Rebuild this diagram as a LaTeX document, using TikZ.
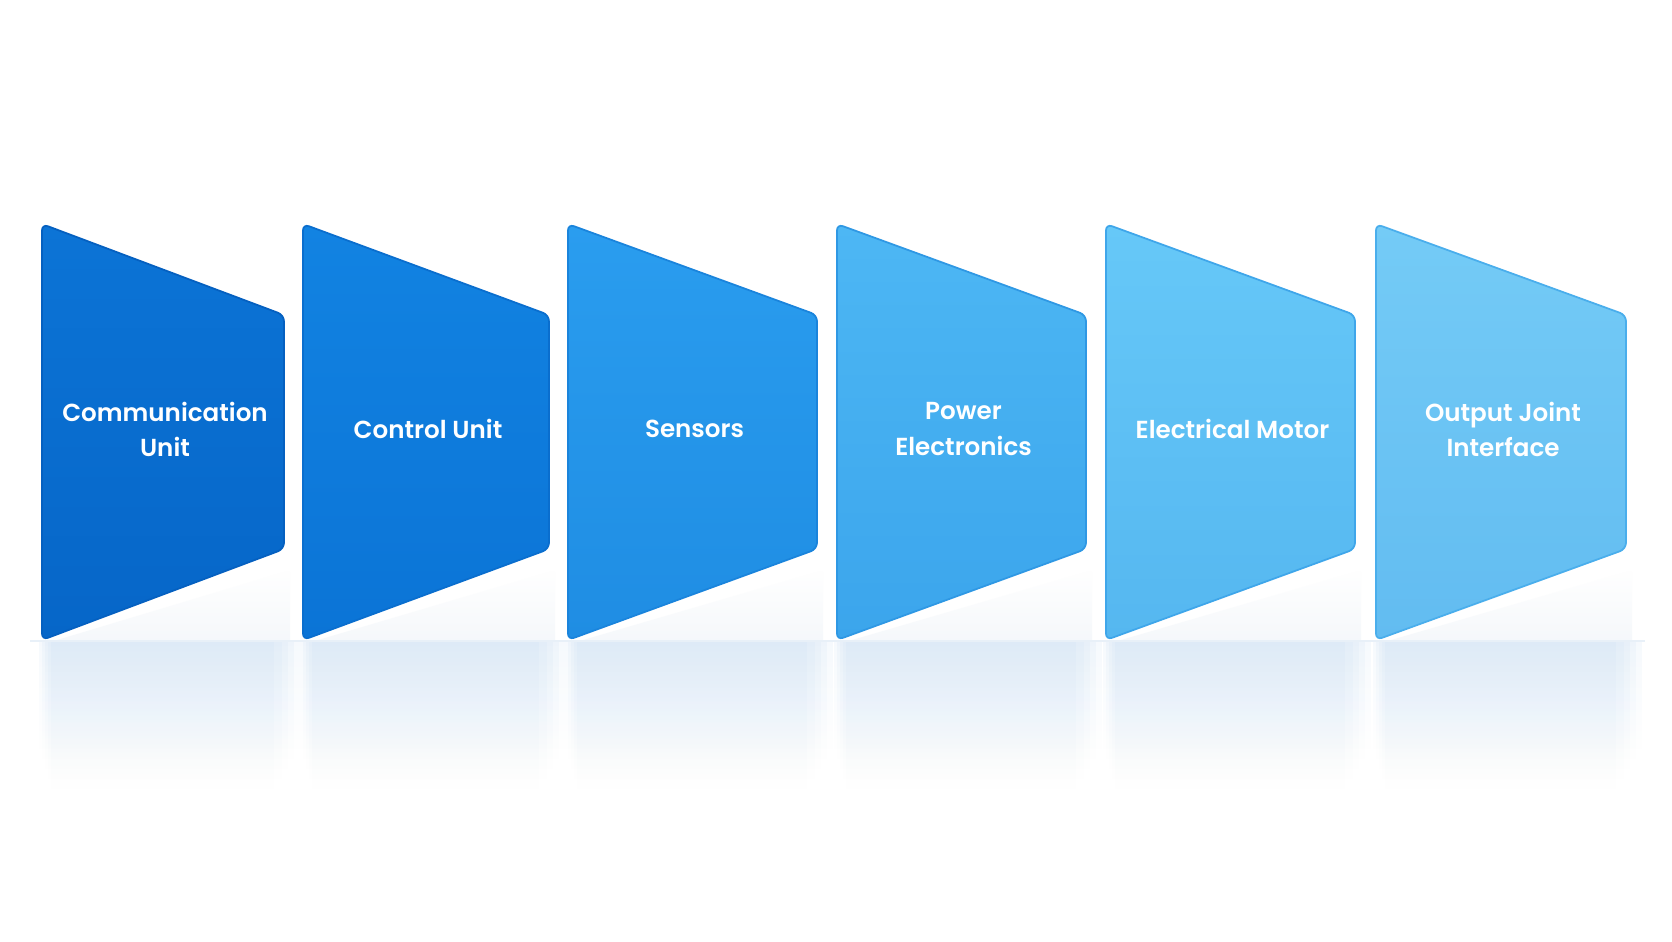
\documentclass[tikz,border=0pt]{standalone}
\usepackage{fontspec}
\setmainfont{Poppins}[BoldFont={Poppins SemiBold}]
\usetikzlibrary{fadings}
\definecolor{pa1}{HTML}{0C74D6}\definecolor{pb1}{HTML}{0666C8}\definecolor{pe1}{HTML}{0560C0}
\definecolor{pa2}{HTML}{1283E2}\definecolor{pb2}{HTML}{0B74D6}\definecolor{pe2}{HTML}{0A6ECE}
\definecolor{pa3}{HTML}{2A9DEF}\definecolor{pb3}{HTML}{1F8DE3}\definecolor{pe3}{HTML}{1A84DC}
\definecolor{pa4}{HTML}{4DB7F4}\definecolor{pb4}{HTML}{3BA5EC}\definecolor{pe4}{HTML}{2F98E4}
\definecolor{pa5}{HTML}{66C8F8}\definecolor{pb5}{HTML}{55B7F0}\definecolor{pe5}{HTML}{3FA6EA}
\definecolor{pa6}{HTML}{74CBF6}\definecolor{pb6}{HTML}{62BCF1}\definecolor{pe6}{HTML}{4AAEEC}
\definecolor{refl}{HTML}{C9DFF3}
\definecolor{shadowc}{HTML}{EEF3F8}
\definecolor{floorc}{HTML}{E8F0F8}
\tikzfading[name=fadedown, top color=transparent!84, bottom color=transparent!100]
\tikzfading[name=fadeup, top color=transparent!100, bottom color=transparent!45]
\tikzset{
  lbl/.style={text=white, font=\bfseries\fontsize{7.0}{9.96}\selectfont, align=center, inner sep=0pt},
  panelshape/.style={line width=0.5pt, rounded corners=1.8pt},
  refllayer/.style={fill=refl, path fading=fadedown}
}
\newcommand{\mypanel}[7]{%
  \fill[shadowc, path fading=fadeup] ({#2+15},640) -- ({#3+6},640) -- ({#3+6},570) -- cycle;
  \fill[refllayer] ({#2-3},642) rectangle ({#3+16},750);
  \fill[refllayer] ({#2},642) rectangle ({#3+10},760);
  \fill[refllayer] ({#2+3},642) rectangle ({#3+4},770);
  \fill[refllayer] ({#2+6},642) rectangle ({#3-2},780);
  \fill[refllayer] ({#2+9},642) rectangle ({#3-10},790);
  \shade[panelshape, top color=#4, bottom color=#5, draw=#6] (#2,224) -- (#3,315) -- (#3,549) -- (#2,640) -- cycle;
  \node[lbl] (#1) at ({(#2+#3)/2+2},429) {#7};
}
\begin{document}
\begin{tikzpicture}[x=0.01cm,y=-0.01cm]
\useasboundingbox (0,0) rectangle (1672,941);
\fill[white] (0,0) rectangle (1672,941);
\draw[floorc, line width=0.8pt] (30,641) -- (1645,641);
\mypanel{p1}{42}{284}{pa1}{pb1}{pe1}{Communication\\Unit}
\mypanel{p2}{303}{549}{pa2}{pb2}{pe2}{Control Unit}
\mypanel{p3}{568}{817}{pa3}{pb3}{pe3}{Sensors}
\mypanel{p4}{837}{1086}{pa4}{pb4}{pe4}{Power\\Electronics}
\mypanel{p5}{1106}{1355}{pa5}{pb5}{pe5}{Electrical Motor}
\mypanel{p6}{1376}{1626}{pa6}{pb6}{pe6}{Output Joint\\Interface}
\end{tikzpicture}
\end{document}
